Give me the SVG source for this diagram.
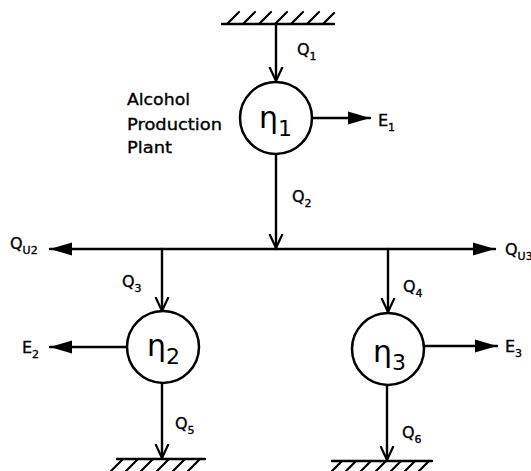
<svg xmlns="http://www.w3.org/2000/svg" width="531" height="471" viewBox="0 0 531 471">
<defs>
<style>
.ln{stroke:#000;stroke-width:2.4;fill:none;stroke-linecap:round}
.ht{stroke:#000;stroke-width:2.2;fill:none;stroke-linecap:round}
.node{stroke:#000;stroke-width:2.5;fill:#fff}
.t{font-family:"DejaVu Sans",sans-serif;font-size:16px;fill:#000;stroke:#000;stroke-width:0.35}
.s{font-size:11px}
.eta{font-family:"DejaVu Sans",sans-serif;font-size:30px;fill:#000}
.etas{font-size:22px}
</style>
<marker id="open" markerWidth="16" markerHeight="16" refX="14" refY="8" orient="auto" markerUnits="userSpaceOnUse">
<path d="M0,1.5 L14,8 L0,14.5" fill="none" stroke="#000" stroke-width="2.2"/>
</marker>
<marker id="fill" markerWidth="24" markerHeight="14" refX="22" refY="7" orient="auto" markerUnits="userSpaceOnUse">
<path d="M0,0.5 L22,7 L0,13.5 Z" fill="#000"/>
</marker>
</defs>

<g id="hatch-top">
<line class="ln" x1="222" y1="24" x2="334" y2="24"/>
<path class="ht" d="M227,24 l12,-12 M243,24 l12,-12 M259,24 l12,-12 M275,24 l12,-12 M291,24 l12,-12 M307,24 l12,-12 M323,24 l11,-11"/>
</g>
<g id="hatch-bl">
<line class="ln" x1="117" y1="459" x2="205" y2="459"/>
<path class="ht" d="M123,459 l-12,12 M138,459 l-12,12 M153,459 l-12,12 M169,459 l-12,12 M185,459 l-12,12 M200,459 l-12,12"/>
</g>
<g id="hatch-br">
<line class="ln" x1="332" y1="461" x2="432" y2="461"/>
<path class="ht" d="M342,461 l-10,10 M356,461 l-10,10 M371,461 l-10,10 M386,461 l-10,10 M401,461 l-10,10 M415,461 l-10,10 M429,461 l-10,10"/>
</g>

<g id="connectors">
<line class="ln" x1="276" y1="24" x2="276" y2="81" marker-end="url(#open)"/>
<line class="ln" x1="312" y1="118" x2="370" y2="118" marker-end="url(#fill)"/>
<line class="ln" x1="276" y1="154" x2="276" y2="248" marker-end="url(#open)"/>
<line class="ln" x1="276" y1="249" x2="50" y2="249" marker-end="url(#fill)"/>
<line class="ln" x1="276" y1="249" x2="495" y2="249" marker-end="url(#fill)"/>
<line class="ln" x1="162" y1="249" x2="162" y2="311" marker-end="url(#open)"/>
<line class="ln" x1="388" y1="249" x2="388" y2="312" marker-end="url(#open)"/>
<line class="ln" x1="127" y1="347" x2="50" y2="347" marker-end="url(#fill)"/>
<line class="ln" x1="424" y1="346" x2="497" y2="346" marker-end="url(#fill)"/>
<line class="ln" x1="162" y1="383" x2="162" y2="458" marker-end="url(#open)"/>
<line class="ln" x1="387" y1="385" x2="387" y2="460" marker-end="url(#open)"/>
</g>

<g id="eta1">
<circle class="node" cx="276" cy="118" r="36"/>
<text class="eta" x="259" y="128">η<tspan class="etas" dy="8">1</tspan></text>
</g>
<g id="eta2">
<circle class="node" cx="163" cy="347" r="36"/>
<text class="eta" x="147" y="356">η<tspan class="etas" dy="8">2</tspan></text>
</g>
<g id="eta3">
<circle class="node" cx="388" cy="349" r="36"/>
<text class="eta" x="373" y="362">η<tspan class="etas" dy="8">3</tspan></text>
</g>

<g id="labels">
<text class="t" x="127" y="105" textLength="63" lengthAdjust="spacingAndGlyphs">Alcohol</text>
<text class="t" x="127" y="130" textLength="95" lengthAdjust="spacingAndGlyphs">Production</text>
<text class="t" x="127" y="153" textLength="45" lengthAdjust="spacingAndGlyphs">Plant</text>
<text class="t" x="297" y="55">Q<tspan class="s" dy="5">1</tspan></text>
<text class="t" x="378" y="126">E<tspan class="s" dy="5">1</tspan></text>
<text class="t" x="292" y="202">Q<tspan class="s" dy="5">2</tspan></text>
<text class="t" x="10" y="249">Q<tspan class="s" dy="5">U2</tspan></text>
<text class="t" x="505" y="255">Q<tspan class="s" dy="5">U3</tspan></text>
<text class="t" x="122" y="287">Q<tspan class="s" dy="5">3</tspan></text>
<text class="t" x="403" y="292">Q<tspan class="s" dy="5">4</tspan></text>
<text class="t" x="22" y="353">E<tspan class="s" dy="5">2</tspan></text>
<text class="t" x="505" y="352">E<tspan class="s" dy="5">3</tspan></text>
<text class="t" x="175" y="429">Q<tspan class="s" dy="5">5</tspan></text>
<text class="t" x="402" y="438">Q<tspan class="s" dy="5">6</tspan></text>
</g>
</svg>
